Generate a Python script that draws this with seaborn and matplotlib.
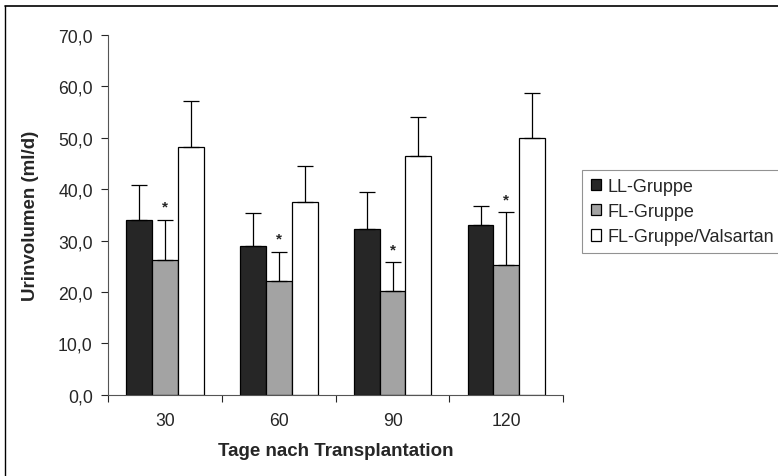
import matplotlib
matplotlib.use("Agg")
import matplotlib.pyplot as plt
from matplotlib.ticker import FuncFormatter, FixedLocator
import seaborn as sns
import pandas as pd
import numpy as np

# values
days = ["30", "60", "90", "120"]
groups = ["LL-Gruppe", "FL-Gruppe", "FL-Gruppe/Valsartan"]
ll_mean = [34.0, 29.0, 32.2, 33.0]
fl_mean = [26.3, 22.2, 20.2, 25.2]
val_mean = [48.2, 37.5, 46.5, 50.0]
ll_err = [6.8, 6.3, 7.3, 3.8]
fl_err = [7.7, 5.6, 5.6, 10.3]
val_err = [9.0, 6.9, 7.5, 8.7]
significant = [True, True, True, True]  # FL-Gruppe marked with *

colors = ["#262626", "#a3a3a3", "#ffffff"]

df = pd.DataFrame({
    "Tage": days * 3,
    "Gruppe": np.repeat(groups, len(days)),
    "Wert": ll_mean + fl_mean + val_mean,
})
errs = [ll_err, fl_err, val_err]

sns.set_style("white")
plt.rcParams["font.family"] = ["Liberation Sans", "DejaVu Sans"]

fig = plt.figure(figsize=(7.78, 4.77), dpi=100)
ax = fig.add_axes([0.139, 0.170, 0.585, 0.755])

sns.barplot(data=df, x="Tage", y="Wert", hue="Gruppe", order=days,
            hue_order=groups, palette=colors, width=0.68, saturation=1,
            edgecolor="black", linewidth=0.9, errorbar=None, ax=ax)

# error bars (upper only) and asterisks
bar_conts = list(ax.containers)
for gi, cont in enumerate(bar_conts):
    for di, bar in enumerate(cont.patches):
        xc = bar.get_x() + bar.get_width() / 2
        h = bar.get_height()
        e = errs[gi][di]
        ax.errorbar(xc, h, yerr=[[0], [e]], fmt="none", ecolor="black",
                    elinewidth=0.9, capsize=6, capthick=0.9, zorder=3)
        if gi == 1 and significant[di]:
            ax.text(xc, h + e + 1.2, "*", ha="center", va="bottom",
                    fontsize=11, fontweight="bold")

ax.set_ylim(0, 70)
ax.set_xlim(-0.5, len(days) - 0.5)
ax.set_yticks(np.arange(0, 71, 10))
ax.yaxis.set_major_formatter(FuncFormatter(lambda v, p: f"{v:.1f}".replace(".", ",")))
ax.tick_params(axis="y", left=True, direction="out", length=5, width=0.8,
               labelsize=12.7, pad=6)
ax.tick_params(axis="x", which="major", bottom=False, labelsize=12.7, pad=9)
ax.xaxis.set_minor_locator(FixedLocator(np.arange(-0.5, len(days), 1.0)))
ax.tick_params(axis="x", which="minor", bottom=True, direction="out",
               length=5, width=0.8)

ax.set_xlabel("Tage nach Transplantation", fontsize=13.5, fontweight="bold",
              labelpad=9)
ax.set_ylabel("Urinvolumen (ml/d)", fontsize=13.5, fontweight="bold",
              labelpad=14)

sns.despine(ax=ax)
for s in ["left", "bottom"]:
    ax.spines[s].set_color("#555555")
    ax.spines[s].set_linewidth(0.8)

leg = ax.legend(loc="upper left", bbox_to_anchor=(1.042, 0.625), fontsize=13,
                frameon=True, fancybox=False, edgecolor="#777777",
                handlelength=0.6, handleheight=0.6, handletextpad=0.35,
                borderpad=0.45, labelspacing=0.45, borderaxespad=0)
leg.get_frame().set_linewidth(0.8)

# outer frame of the original figure (top and left edges visible)
fig.add_artist(plt.Line2D([0.007, 1.0], [0.985, 0.985], color="black",
                          linewidth=1.2, transform=fig.transFigure))
fig.add_artist(plt.Line2D([0.007, 0.007], [0.0, 0.985], color="black",
                          linewidth=1.0, transform=fig.transFigure))

fig.savefig("out.png", dpi=100)
